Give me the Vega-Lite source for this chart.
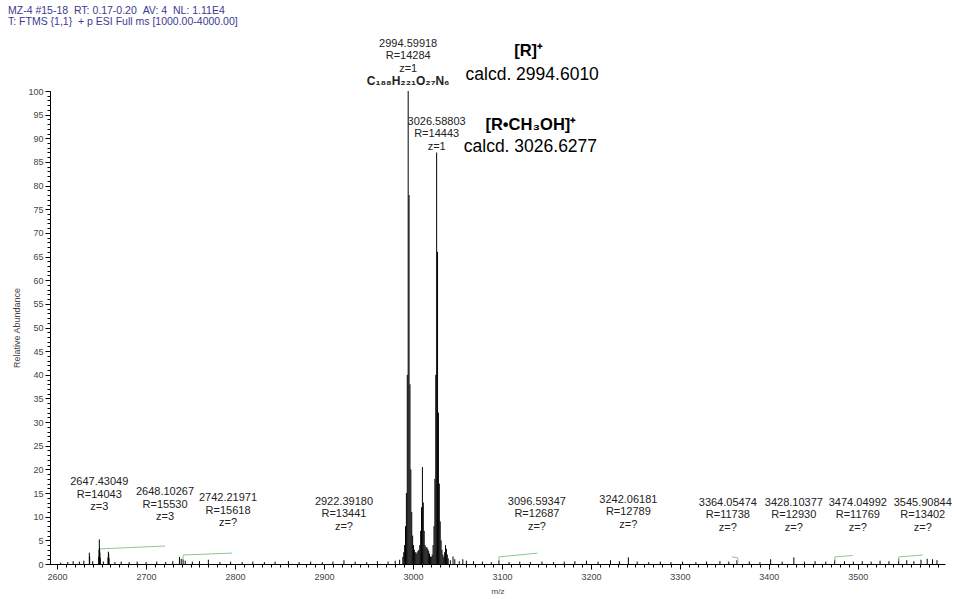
{
  "$schema": "https://vega.github.io/schema/vega-lite/v6.json",
  "width": 895,
  "height": 473,
  "autosize": {"type": "none"},
  "padding": {"left": 50, "top": 91, "right": 10, "bottom": 35},
  "background": "white",
  "config": {
    "view": {"stroke": null},
    "font": "Liberation Sans",
    "axis": {"grid": false, "domainColor": "#000", "tickColor": "#000", "labelColor": "#444", "titleColor": "#444", "labelFont": "Liberation Sans", "titleFont": "Liberation Sans", "titleFontWeight": "normal", "labelFlush": false}
  },
  "resolve": {"axis": {"x": "independent", "y": "independent"}},
  "datasets": {
    "header": [
      {"mz": 2544.8, "ab": 118.0, "label": "MZ-4 #15-18\u00a0\u00a0RT: 0.17-0.20\u00a0\u00a0AV: 4\u00a0\u00a0NL: 1.11E4\nT: FTMS {1,1}\u00a0\u00a0+ p ESI Full ms [1000.00-4000.00]"}
    ],
    "spectrum": [
      {"mz": 2604, "ab": 0.3}, {"mz": 2612, "ab": 0.4}, {"mz": 2618, "ab": 0.6}, {"mz": 2625, "ab": 0.5}, {"mz": 2630, "ab": 0.7},
      {"mz": 2636.2, "ab": 2.4}, {"mz": 2636.6, "ab": 1.6}, {"mz": 2640, "ab": 0.6},
      {"mz": 2646.8, "ab": 1.5}, {"mz": 2647.1, "ab": 3.0}, {"mz": 2647.43, "ab": 5.2}, {"mz": 2647.77, "ab": 3.4}, {"mz": 2648.1, "ab": 2.4}, {"mz": 2648.43, "ab": 1.3},
      {"mz": 2652, "ab": 0.5}, {"mz": 2657.2, "ab": 1.4}, {"mz": 2657.6, "ab": 2.6}, {"mz": 2658.0, "ab": 2.2}, {"mz": 2658.4, "ab": 1.2},
      {"mz": 2665, "ab": 0.4}, {"mz": 2672, "ab": 0.5}, {"mz": 2681, "ab": 0.4}, {"mz": 2690, "ab": 0.5}, {"mz": 2700, "ab": 0.4}, {"mz": 2712, "ab": 0.5}, {"mz": 2722, "ab": 0.4}, {"mz": 2730, "ab": 0.6},
      {"mz": 2737.5, "ab": 1.5}, {"mz": 2739.5, "ab": 1.1}, {"mz": 2741.6, "ab": 1.0}, {"mz": 2744, "ab": 0.7}, {"mz": 2752, "ab": 0.5}, {"mz": 2760, "ab": 0.6}, {"mz": 2770, "ab": 0.9}, {"mz": 2783, "ab": 0.4}, {"mz": 2795, "ab": 0.5},
      {"mz": 2808, "ab": 0.4}, {"mz": 2820, "ab": 0.5}, {"mz": 2833, "ab": 0.4}, {"mz": 2845, "ab": 0.5}, {"mz": 2860, "ab": 0.6}, {"mz": 2872, "ab": 0.4}, {"mz": 2885, "ab": 0.5}, {"mz": 2898, "ab": 0.4}, {"mz": 2910, "ab": 0.5}, {"mz": 2922.4, "ab": 0.8}, {"mz": 2935, "ab": 0.5}, {"mz": 2948, "ab": 0.4}, {"mz": 2960, "ab": 0.6}, {"mz": 2972, "ab": 0.5}, {"mz": 2980, "ab": 0.7}, {"mz": 2985, "ab": 0.9},
      {"mz": 2988.6, "ab": 1.5}, {"mz": 2989.6, "ab": 2.5}, {"mz": 2990.6, "ab": 4}, {"mz": 2991.6, "ab": 8}, {"mz": 2992.6, "ab": 15}, {"mz": 2993.6, "ab": 40}, {"mz": 2994.6, "ab": 100}, {"mz": 2995.6, "ab": 78}, {"mz": 2996.6, "ab": 38}, {"mz": 2997.6, "ab": 20}, {"mz": 2998.6, "ab": 11}, {"mz": 2999.6, "ab": 6}, {"mz": 3000.6, "ab": 4}, {"mz": 3001.6, "ab": 3}, {"mz": 3002.6, "ab": 2.5}, {"mz": 3003.6, "ab": 2.2}, {"mz": 3004.6, "ab": 2.5}, {"mz": 3005.6, "ab": 2.8},
      {"mz": 3006.6, "ab": 3}, {"mz": 3007.6, "ab": 4}, {"mz": 3008.6, "ab": 7}, {"mz": 3009.6, "ab": 12}, {"mz": 3010.6, "ab": 20.5}, {"mz": 3011.6, "ab": 13}, {"mz": 3012.6, "ab": 7}, {"mz": 3013.6, "ab": 4}, {"mz": 3014.6, "ab": 3.5}, {"mz": 3015.6, "ab": 3.6}, {"mz": 3016.6, "ab": 3.2}, {"mz": 3017.6, "ab": 2.8}, {"mz": 3018.6, "ab": 2.2}, {"mz": 3019.6, "ab": 1.6}, {"mz": 3020.6, "ab": 1.5}, {"mz": 3021.6, "ab": 2},
      {"mz": 3022.6, "ab": 4}, {"mz": 3023.6, "ab": 8}, {"mz": 3024.6, "ab": 18}, {"mz": 3025.6, "ab": 40}, {"mz": 3026.6, "ab": 87}, {"mz": 3027.6, "ab": 66}, {"mz": 3028.6, "ab": 32}, {"mz": 3029.6, "ab": 17}, {"mz": 3030.6, "ab": 9}, {"mz": 3031.6, "ab": 5}, {"mz": 3032.6, "ab": 3}, {"mz": 3033.6, "ab": 2}, {"mz": 3034.6, "ab": 1.5}, {"mz": 3035.6, "ab": 2.5}, {"mz": 3036.6, "ab": 4}, {"mz": 3037.6, "ab": 3.2}, {"mz": 3038.6, "ab": 2}, {"mz": 3039.6, "ab": 1.2},
      {"mz": 3042, "ab": 0.8}, {"mz": 3045, "ab": 1.6}, {"mz": 3047, "ab": 1.0}, {"mz": 3052, "ab": 0.6}, {"mz": 3056, "ab": 1.0}, {"mz": 3060, "ab": 0.7}, {"mz": 3068, "ab": 0.6}, {"mz": 3078, "ab": 0.5}, {"mz": 3088, "ab": 0.4}, {"mz": 3096.6, "ab": 0.8},
      {"mz": 3108, "ab": 0.4}, {"mz": 3120, "ab": 0.5}, {"mz": 3132, "ab": 0.4}, {"mz": 3145, "ab": 0.5}, {"mz": 3158, "ab": 0.4}, {"mz": 3170, "ab": 0.5}, {"mz": 3182, "ab": 0.6}, {"mz": 3195, "ab": 0.7}, {"mz": 3208, "ab": 0.5}, {"mz": 3222, "ab": 0.8}, {"mz": 3232, "ab": 0.6}, {"mz": 3242.1, "ab": 1.4}, {"mz": 3252, "ab": 0.5},
      {"mz": 3265, "ab": 0.4}, {"mz": 3278, "ab": 0.5}, {"mz": 3290, "ab": 0.4}, {"mz": 3303, "ab": 0.5}, {"mz": 3318, "ab": 0.4}, {"mz": 3330, "ab": 0.5}, {"mz": 3345, "ab": 0.6}, {"mz": 3355, "ab": 0.5}, {"mz": 3364.1, "ab": 0.8}, {"mz": 3378, "ab": 0.5}, {"mz": 3390, "ab": 0.4},
      {"mz": 3402, "ab": 1.0}, {"mz": 3415, "ab": 0.5}, {"mz": 3428.1, "ab": 1.4}, {"mz": 3440, "ab": 0.5}, {"mz": 3452, "ab": 0.6}, {"mz": 3464, "ab": 0.5}, {"mz": 3474.0, "ab": 0.9}, {"mz": 3485, "ab": 0.6}, {"mz": 3495, "ab": 0.5},
      {"mz": 3505, "ab": 0.6}, {"mz": 3515, "ab": 0.5}, {"mz": 3525, "ab": 0.7}, {"mz": 3535, "ab": 0.6}, {"mz": 3545.9, "ab": 1.1}, {"mz": 3555, "ab": 0.8}, {"mz": 3563, "ab": 0.6}, {"mz": 3571, "ab": 0.9}, {"mz": 3578, "ab": 1.1}, {"mz": 3584, "ab": 1.0}, {"mz": 3589, "ab": 0.8}
    ],
    "peakLabels": [
      {"mz": 2647.4, "ab": 18.5, "label": "2647.43049\nR=14043\nz=3"},
      {"mz": 2721.3, "ab": 16.4, "label": "2648.10267\nR=15530\nz=3"},
      {"mz": 2792.1, "ab": 15.2, "label": "2742.21971\nR=15618\nz=?"},
      {"mz": 2922.4, "ab": 14.4, "label": "2922.39180\nR=13441\nz=?"},
      {"mz": 3139.3, "ab": 14.4, "label": "3096.59347\nR=12687\nz=?"},
      {"mz": 3242.1, "ab": 14.8, "label": "3242.06181\nR=12789\nz=?"},
      {"mz": 3353.9, "ab": 14.2, "label": "3364.05474\nR=11738\nz=?"},
      {"mz": 3428.1, "ab": 14.2, "label": "3428.10377\nR=12930\nz=?"},
      {"mz": 3500.0, "ab": 14.2, "label": "3474.04992\nR=11769\nz=?"},
      {"mz": 3573.0, "ab": 14.2, "label": "3545.90844\nR=13402\nz=?"},
      {"mz": 2994.6, "ab": 111.3, "label": "2994.59918\nR=14284\nz=1"},
      {"mz": 3026.6, "ab": 94.8, "label": "3026.58803\nR=14443\nz=1"}
    ],
    "formula": [
      {"mz": 2994.6, "ab": 102.2, "label": "C₁₈₈H₂₂₁O₂₇N₆"}
    ],
    "ionNames": [
      {"mz": 3130, "ab": 108.5, "label": "[R]⁺"},
      {"mz": 3132.5, "ab": 92.9, "label": "[R•CH₃OH]⁺"}
    ],
    "calcd": [
      {"mz": 3134, "ab": 103.4, "label": "calcd. 2994.6010"},
      {"mz": 3132, "ab": 88.2, "label": "calcd. 3026.6277"}
    ],
    "leaders": [
      {"x1": 2648.3, "y1": 3.2, "x2": 2721.3, "y2": 3.8},
      {"x1": 2741.6, "y1": 0.9, "x2": 2741.6, "y2": 1.9},
      {"x1": 2741.6, "y1": 1.9, "x2": 2796.6, "y2": 2.3},
      {"x1": 3096.6, "y1": 0.6, "x2": 3096.6, "y2": 1.5},
      {"x1": 3096.6, "y1": 1.5, "x2": 3140.0, "y2": 2.3},
      {"x1": 3358.4, "y1": 1.5, "x2": 3365.2, "y2": 1.3},
      {"x1": 3365.2, "y1": 1.3, "x2": 3365.2, "y2": 0.3},
      {"x1": 3474.2, "y1": 0.6, "x2": 3474.2, "y2": 1.5},
      {"x1": 3474.2, "y1": 1.5, "x2": 3494.4, "y2": 1.8},
      {"x1": 3546.0, "y1": 0.6, "x2": 3546.0, "y2": 1.5},
      {"x1": 3546.0, "y1": 1.5, "x2": 3573.0, "y2": 1.9}
    ]
  },
  "layer": [
    {
      "data": {"name": "spectrum"},
      "mark": {"type": "rule", "color": "#000", "strokeWidth": 1},
      "encoding": {
        "x": {
          "field": "mz", "type": "quantitative",
          "scale": {"domain": [2592, 3598], "nice": false, "zero": false},
          "axis": {
            "title": "m/z", "titleFontSize": 8, "titlePadding": 6,
            "values": [2600,2700,2800,2900,3000,3100,3200,3300,3400,3500],
            "format": "d", "labelFontSize": 9, "labelPadding": 3, "tickSize": 5
          }
        },
        "y": {
          "field": "ab", "type": "quantitative",
          "scale": {"domain": [0, 100], "nice": false},
          "axis": {
            "title": "Relative Abundance", "titleFontSize": 9, "titlePadding": 6,
            "values": [0,5,10,15,20,25,30,35,40,45,50,55,60,65,70,75,80,85,90,95,100],
            "format": "d", "labelFontSize": 9, "labelPadding": 2, "tickSize": 5
          }
        },
        "y2": {"datum": 0}
      }
    },
    {
      "data": {"name": "leaders"},
      "mark": {"type": "rule", "color": "#8cc98c", "strokeWidth": 1},
      "encoding": {
        "x": {"field": "x1", "type": "quantitative",
          "axis": {"orient": "bottom", "title": null, "labels": false, "domain": false, "tickSize": 3,
            "values": [2600,2610,2620,2630,2640,2650,2660,2670,2680,2690,2700,2710,2720,2730,2740,2750,2760,2770,2780,2790,2800,2810,2820,2830,2840,2850,2860,2870,2880,2890,2900,2910,2920,2930,2940,2950,2960,2970,2980,2990,3000,3010,3020,3030,3040,3050,3060,3070,3080,3090,3100,3110,3120,3130,3140,3150,3160,3170,3180,3190,3200,3210,3220,3230,3240,3250,3260,3270,3280,3290,3300,3310,3320,3330,3340,3350,3360,3370,3380,3390,3400,3410,3420,3430,3440,3450,3460,3470,3480,3490,3500,3510,3520,3530,3540,3550,3560,3570,3580,3590]}},
        "x2": {"field": "x2"},
        "y": {"field": "y1", "type": "quantitative",
          "axis": {"orient": "left", "title": null, "labels": false, "domain": false, "tickSize": 3,
            "values": [0,1,2,3,4,5,6,7,8,9,10,11,12,13,14,15,16,17,18,19,20,21,22,23,24,25,26,27,28,29,30,31,32,33,34,35,36,37,38,39,40,41,42,43,44,45,46,47,48,49,50,51,52,53,54,55,56,57,58,59,60,61,62,63,64,65,66,67,68,69,70,71,72,73,74,75,76,77,78,79,80,81,82,83,84,85,86,87,88,89,90,91,92,93,94,95,96,97,98,99,100]}},
        "y2": {"field": "y2"}
      }
    },
    {
      "data": {"name": "peakLabels"},
      "mark": {"type": "text", "fontSize": 11, "font": "Liberation Sans", "color": "#222", "baseline": "top", "align": "center", "lineBreak": "\n", "lineHeight": 12.5},
      "encoding": {
        "x": {"field": "mz", "type": "quantitative", "axis": null},
        "y": {"field": "ab", "type": "quantitative", "axis": null},
        "text": {"field": "label"}
      }
    },
    {
      "data": {"name": "formula"},
      "mark": {"type": "text", "fontSize": 12, "fontWeight": "bold", "font": "Liberation Sans", "color": "#222", "baseline": "middle", "align": "center"},
      "encoding": {
        "x": {"field": "mz", "type": "quantitative", "axis": null},
        "y": {"field": "ab", "type": "quantitative", "axis": null},
        "text": {"field": "label"}
      }
    },
    {
      "data": {"name": "ionNames"},
      "mark": {"type": "text", "fontSize": 16.5, "fontWeight": "bold", "font": "Liberation Sans", "color": "#000", "baseline": "middle", "align": "center"},
      "encoding": {
        "x": {"field": "mz", "type": "quantitative", "axis": null},
        "y": {"field": "ab", "type": "quantitative", "axis": null},
        "text": {"field": "label"}
      }
    },
    {
      "data": {"name": "calcd"},
      "mark": {"type": "text", "fontSize": 17.5, "font": "Liberation Sans", "color": "#000", "baseline": "middle", "align": "center"},
      "encoding": {
        "x": {"field": "mz", "type": "quantitative", "axis": null},
        "y": {"field": "ab", "type": "quantitative", "axis": null},
        "text": {"field": "label"}
      }
    },
    {
      "data": {"name": "header"},
      "mark": {"type": "text", "fontSize": 10.5, "font": "Liberation Sans", "color": "#3a3a90", "baseline": "top", "align": "left", "lineBreak": "\n", "lineHeight": 11},
      "encoding": {
        "x": {"field": "mz", "type": "quantitative", "axis": null},
        "y": {"field": "ab", "type": "quantitative", "axis": null},
        "text": {"field": "label"}
      }
    }
  ]
}
